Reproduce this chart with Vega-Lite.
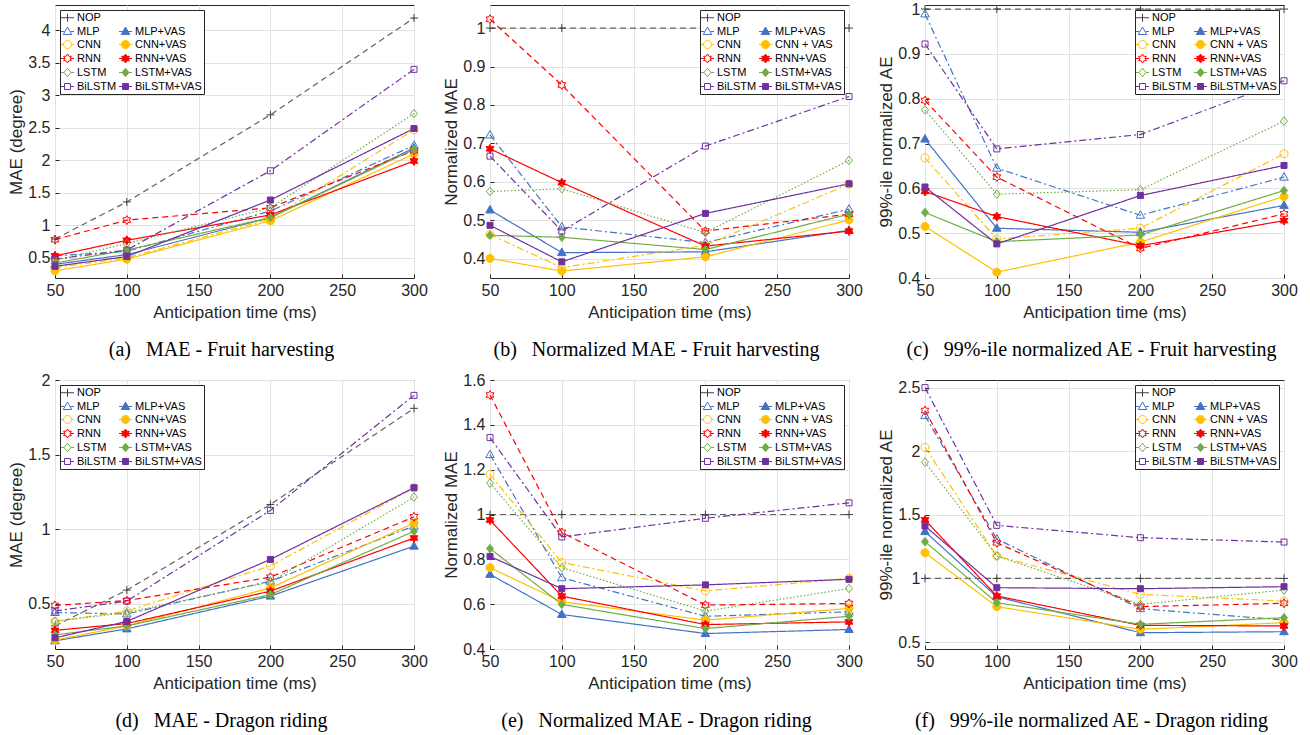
{
"$schema": "https://vega.github.io/schema/vega-lite/v6.json",
"background": "white",
"padding": {"left": 7, "top": 0, "right": 5, "bottom": 5},
"datasets": {"d": [
{"p":"a","s":"NOP","t":50,"v":0.79},{"p":"a","s":"NOP","t":100,"v":1.36},{"p":"a","s":"NOP","t":200,"v":2.70},{"p":"a","s":"NOP","t":300,"v":4.19},
{"p":"a","s":"MLP","t":50,"v":0.53},{"p":"a","s":"MLP","t":100,"v":0.60},{"p":"a","s":"MLP","t":200,"v":1.22},{"p":"a","s":"MLP","t":300,"v":2.23},
{"p":"a","s":"MLP+VAS","t":50,"v":0.40},{"p":"a","s":"MLP+VAS","t":100,"v":0.55},{"p":"a","s":"MLP+VAS","t":200,"v":1.12},{"p":"a","s":"MLP+VAS","t":300,"v":2.19},
{"p":"a","s":"CNN","t":50,"v":0.35},{"p":"a","s":"CNN","t":100,"v":0.50},{"p":"a","s":"CNN","t":200,"v":1.10},{"p":"a","s":"CNN","t":300,"v":2.47},
{"p":"a","s":"CNN+VAS","t":50,"v":0.30},{"p":"a","s":"CNN+VAS","t":100,"v":0.48},{"p":"a","s":"CNN+VAS","t":200,"v":1.07},{"p":"a","s":"CNN+VAS","t":300,"v":2.10},
{"p":"a","s":"RNN","t":50,"v":0.78},{"p":"a","s":"RNN","t":100,"v":1.08},{"p":"a","s":"RNN","t":200,"v":1.27},{"p":"a","s":"RNN","t":300,"v":2.15},
{"p":"a","s":"RNN+VAS","t":50,"v":0.53},{"p":"a","s":"RNN+VAS","t":100,"v":0.77},{"p":"a","s":"RNN+VAS","t":200,"v":1.16},{"p":"a","s":"RNN+VAS","t":300,"v":1.99},
{"p":"a","s":"LSTM","t":50,"v":0.46},{"p":"a","s":"LSTM","t":100,"v":0.72},{"p":"a","s":"LSTM","t":200,"v":1.27},{"p":"a","s":"LSTM","t":300,"v":2.72},
{"p":"a","s":"LSTM+VAS","t":50,"v":0.42},{"p":"a","s":"LSTM+VAS","t":100,"v":0.62},{"p":"a","s":"LSTM+VAS","t":200,"v":1.12},{"p":"a","s":"LSTM+VAS","t":300,"v":2.17},
{"p":"a","s":"BiLSTM","t":50,"v":0.48},{"p":"a","s":"BiLSTM","t":100,"v":0.62},{"p":"a","s":"BiLSTM","t":200,"v":1.84},{"p":"a","s":"BiLSTM","t":300,"v":3.40},
{"p":"a","s":"BiLSTM+VAS","t":50,"v":0.37},{"p":"a","s":"BiLSTM+VAS","t":100,"v":0.52},{"p":"a","s":"BiLSTM+VAS","t":200,"v":1.39},{"p":"a","s":"BiLSTM+VAS","t":300,"v":2.49},

{"p":"b","s":"NOP","t":50,"v":1},{"p":"b","s":"NOP","t":100,"v":1},{"p":"b","s":"NOP","t":200,"v":1},{"p":"b","s":"NOP","t":300,"v":1},
{"p":"b","s":"MLP","t":50,"v":0.722},{"p":"b","s":"MLP","t":100,"v":0.483},{"p":"b","s":"MLP","t":200,"v":0.442},{"p":"b","s":"MLP","t":300,"v":0.529},
{"p":"b","s":"MLP+VAS","t":50,"v":0.527},{"p":"b","s":"MLP+VAS","t":100,"v":0.416},{"p":"b","s":"MLP+VAS","t":200,"v":0.418},{"p":"b","s":"MLP+VAS","t":300,"v":0.474},
{"p":"b","s":"CNN","t":50,"v":0.463},{"p":"b","s":"CNN","t":100,"v":0.377},{"p":"b","s":"CNN","t":200,"v":0.435},{"p":"b","s":"CNN","t":300,"v":0.594},
{"p":"b","s":"CNN+VAS","t":50,"v":0.401},{"p":"b","s":"CNN+VAS","t":100,"v":0.368},{"p":"b","s":"CNN+VAS","t":200,"v":0.405},{"p":"b","s":"CNN+VAS","t":300,"v":0.501},
{"p":"b","s":"RNN","t":50,"v":1.023},{"p":"b","s":"RNN","t":100,"v":0.852},{"p":"b","s":"RNN","t":200,"v":0.472},{"p":"b","s":"RNN","t":300,"v":0.516},
{"p":"b","s":"RNN+VAS","t":50,"v":0.686},{"p":"b","s":"RNN+VAS","t":100,"v":0.598},{"p":"b","s":"RNN+VAS","t":200,"v":0.433},{"p":"b","s":"RNN+VAS","t":300,"v":0.472},
{"p":"b","s":"LSTM","t":50,"v":0.575},{"p":"b","s":"LSTM","t":100,"v":0.582},{"p":"b","s":"LSTM","t":200,"v":0.468},{"p":"b","s":"LSTM","t":300,"v":0.656},
{"p":"b","s":"LSTM+VAS","t":50,"v":0.461},{"p":"b","s":"LSTM+VAS","t":100,"v":0.456},{"p":"b","s":"LSTM+VAS","t":200,"v":0.424},{"p":"b","s":"LSTM+VAS","t":300,"v":0.516},
{"p":"b","s":"BiLSTM","t":50,"v":0.667},{"p":"b","s":"BiLSTM","t":100,"v":0.472},{"p":"b","s":"BiLSTM","t":200,"v":0.693},{"p":"b","s":"BiLSTM","t":300,"v":0.822},
{"p":"b","s":"BiLSTM+VAS","t":50,"v":0.487},{"p":"b","s":"BiLSTM+VAS","t":100,"v":0.392},{"p":"b","s":"BiLSTM+VAS","t":200,"v":0.518},{"p":"b","s":"BiLSTM+VAS","t":300,"v":0.595},

{"p":"c","s":"NOP","t":50,"v":1},{"p":"c","s":"NOP","t":100,"v":1},{"p":"c","s":"NOP","t":200,"v":1},{"p":"c","s":"NOP","t":300,"v":1},
{"p":"c","s":"MLP","t":50,"v":0.989},{"p":"c","s":"MLP","t":100,"v":0.645},{"p":"c","s":"MLP","t":200,"v":0.540},{"p":"c","s":"MLP","t":300,"v":0.625},
{"p":"c","s":"MLP+VAS","t":50,"v":0.710},{"p":"c","s":"MLP+VAS","t":100,"v":0.511},{"p":"c","s":"MLP+VAS","t":200,"v":0.502},{"p":"c","s":"MLP+VAS","t":300,"v":0.562},
{"p":"c","s":"CNN","t":50,"v":0.668},{"p":"c","s":"CNN","t":100,"v":0.487},{"p":"c","s":"CNN","t":200,"v":0.511},{"p":"c","s":"CNN","t":300,"v":0.677},
{"p":"c","s":"CNN+VAS","t":50,"v":0.515},{"p":"c","s":"CNN+VAS","t":100,"v":0.413},{"p":"c","s":"CNN+VAS","t":200,"v":0.480},{"p":"c","s":"CNN+VAS","t":300,"v":0.582},
{"p":"c","s":"RNN","t":50,"v":0.796},{"p":"c","s":"RNN","t":100,"v":0.625},{"p":"c","s":"RNN","t":200,"v":0.466},{"p":"c","s":"RNN","t":300,"v":0.543},
{"p":"c","s":"RNN+VAS","t":50,"v":0.593},{"p":"c","s":"RNN+VAS","t":100,"v":0.537},{"p":"c","s":"RNN+VAS","t":200,"v":0.472},{"p":"c","s":"RNN+VAS","t":300,"v":0.528},
{"p":"c","s":"LSTM","t":50,"v":0.775},{"p":"c","s":"LSTM","t":100,"v":0.587},{"p":"c","s":"LSTM","t":200,"v":0.597},{"p":"c","s":"LSTM","t":300,"v":0.750},
{"p":"c","s":"LSTM+VAS","t":50,"v":0.546},{"p":"c","s":"LSTM+VAS","t":100,"v":0.481},{"p":"c","s":"LSTM+VAS","t":200,"v":0.496},{"p":"c","s":"LSTM+VAS","t":300,"v":0.595},
{"p":"c","s":"BiLSTM","t":50,"v":0.922},{"p":"c","s":"BiLSTM","t":100,"v":0.688},{"p":"c","s":"BiLSTM","t":200,"v":0.720},{"p":"c","s":"BiLSTM","t":300,"v":0.840},
{"p":"c","s":"BiLSTM+VAS","t":50,"v":0.603},{"p":"c","s":"BiLSTM+VAS","t":100,"v":0.476},{"p":"c","s":"BiLSTM+VAS","t":200,"v":0.584},{"p":"c","s":"BiLSTM+VAS","t":300,"v":0.651},

{"p":"d","s":"NOP","t":50,"v":0.35},{"p":"d","s":"NOP","t":100,"v":0.59},{"p":"d","s":"NOP","t":200,"v":1.165},{"p":"d","s":"NOP","t":300,"v":1.81},
{"p":"d","s":"MLP","t":50,"v":0.44},{"p":"d","s":"MLP","t":100,"v":0.43},{"p":"d","s":"MLP","t":200,"v":0.65},{"p":"d","s":"MLP","t":300,"v":1.02},
{"p":"d","s":"MLP+VAS","t":50,"v":0.25},{"p":"d","s":"MLP+VAS","t":100,"v":0.33},{"p":"d","s":"MLP+VAS","t":200,"v":0.55},{"p":"d","s":"MLP+VAS","t":300,"v":0.885},
{"p":"d","s":"CNN","t":50,"v":0.38},{"p":"d","s":"CNN","t":100,"v":0.45},{"p":"d","s":"CNN","t":200,"v":0.752},{"p":"d","s":"CNN","t":300,"v":1.277},
{"p":"d","s":"CNN+VAS","t":50,"v":0.255},{"p":"d","s":"CNN+VAS","t":100,"v":0.35},{"p":"d","s":"CNN+VAS","t":200,"v":0.605},{"p":"d","s":"CNN+VAS","t":300,"v":1.04},
{"p":"d","s":"RNN","t":50,"v":0.487},{"p":"d","s":"RNN","t":100,"v":0.52},{"p":"d","s":"RNN","t":200,"v":0.677},{"p":"d","s":"RNN","t":300,"v":1.082},
{"p":"d","s":"RNN+VAS","t":50,"v":0.32},{"p":"d","s":"RNN+VAS","t":100,"v":0.366},{"p":"d","s":"RNN+VAS","t":200,"v":0.583},{"p":"d","s":"RNN+VAS","t":300,"v":0.94},
{"p":"d","s":"LSTM","t":50,"v":0.38},{"p":"d","s":"LSTM","t":100,"v":0.44},{"p":"d","s":"LSTM","t":200,"v":0.645},{"p":"d","s":"LSTM","t":300,"v":1.214},
{"p":"d","s":"LSTM+VAS","t":50,"v":0.29},{"p":"d","s":"LSTM+VAS","t":100,"v":0.35},{"p":"d","s":"LSTM+VAS","t":200,"v":0.56},{"p":"d","s":"LSTM+VAS","t":300,"v":0.985},
{"p":"d","s":"BiLSTM","t":50,"v":0.45},{"p":"d","s":"BiLSTM","t":100,"v":0.516},{"p":"d","s":"BiLSTM","t":200,"v":1.125},{"p":"d","s":"BiLSTM","t":300,"v":1.897},
{"p":"d","s":"BiLSTM+VAS","t":50,"v":0.27},{"p":"d","s":"BiLSTM+VAS","t":100,"v":0.38},{"p":"d","s":"BiLSTM+VAS","t":200,"v":0.796},{"p":"d","s":"BiLSTM+VAS","t":300,"v":1.277},

{"p":"e","s":"NOP","t":50,"v":1},{"p":"e","s":"NOP","t":100,"v":1},{"p":"e","s":"NOP","t":200,"v":1},{"p":"e","s":"NOP","t":300,"v":1},
{"p":"e","s":"MLP","t":50,"v":1.267},{"p":"e","s":"MLP","t":100,"v":0.718},{"p":"e","s":"MLP","t":200,"v":0.546},{"p":"e","s":"MLP","t":300,"v":0.566},
{"p":"e","s":"MLP+VAS","t":50,"v":0.733},{"p":"e","s":"MLP+VAS","t":100,"v":0.554},{"p":"e","s":"MLP+VAS","t":200,"v":0.469},{"p":"e","s":"MLP+VAS","t":300,"v":0.487},
{"p":"e","s":"CNN","t":50,"v":1.179},{"p":"e","s":"CNN","t":100,"v":0.786},{"p":"e","s":"CNN","t":200,"v":0.659},{"p":"e","s":"CNN","t":300,"v":0.715},
{"p":"e","s":"CNN+VAS","t":50,"v":0.763},{"p":"e","s":"CNN+VAS","t":100,"v":0.611},{"p":"e","s":"CNN+VAS","t":200,"v":0.529},{"p":"e","s":"CNN+VAS","t":300,"v":0.581},
{"p":"e","s":"RNN","t":50,"v":1.533},{"p":"e","s":"RNN","t":100,"v":0.92},{"p":"e","s":"RNN","t":200,"v":0.596},{"p":"e","s":"RNN","t":300,"v":0.603},
{"p":"e","s":"RNN+VAS","t":50,"v":0.975},{"p":"e","s":"RNN+VAS","t":100,"v":0.636},{"p":"e","s":"RNN+VAS","t":200,"v":0.509},{"p":"e","s":"RNN+VAS","t":300,"v":0.521},
{"p":"e","s":"LSTM","t":50,"v":1.14},{"p":"e","s":"LSTM","t":100,"v":0.763},{"p":"e","s":"LSTM","t":200,"v":0.569},{"p":"e","s":"LSTM","t":300,"v":0.67},
{"p":"e","s":"LSTM+VAS","t":50,"v":0.848},{"p":"e","s":"LSTM+VAS","t":100,"v":0.599},{"p":"e","s":"LSTM+VAS","t":200,"v":0.491},{"p":"e","s":"LSTM+VAS","t":300,"v":0.546},
{"p":"e","s":"BiLSTM","t":50,"v":1.343},{"p":"e","s":"BiLSTM","t":100,"v":0.90},{"p":"e","s":"BiLSTM","t":200,"v":0.983},{"p":"e","s":"BiLSTM","t":300,"v":1.052},
{"p":"e","s":"BiLSTM+VAS","t":50,"v":0.813},{"p":"e","s":"BiLSTM+VAS","t":100,"v":0.669},{"p":"e","s":"BiLSTM+VAS","t":200,"v":0.686},{"p":"e","s":"BiLSTM+VAS","t":300,"v":0.711},

{"p":"f","s":"NOP","t":50,"v":1},{"p":"f","s":"NOP","t":100,"v":1},{"p":"f","s":"NOP","t":200,"v":1},{"p":"f","s":"NOP","t":300,"v":1},
{"p":"f","s":"MLP","t":50,"v":2.28},{"p":"f","s":"MLP","t":100,"v":1.31},{"p":"f","s":"MLP","t":200,"v":0.762},{"p":"f","s":"MLP","t":300,"v":0.673},
{"p":"f","s":"MLP+VAS","t":50,"v":1.368},{"p":"f","s":"MLP+VAS","t":100,"v":0.856},{"p":"f","s":"MLP+VAS","t":200,"v":0.573},{"p":"f","s":"MLP+VAS","t":300,"v":0.581},
{"p":"f","s":"CNN","t":50,"v":2.03},{"p":"f","s":"CNN","t":100,"v":1.176},{"p":"f","s":"CNN","t":200,"v":0.875},{"p":"f","s":"CNN","t":300,"v":0.822},
{"p":"f","s":"CNN+VAS","t":50,"v":1.202},{"p":"f","s":"CNN+VAS","t":100,"v":0.778},{"p":"f","s":"CNN+VAS","t":200,"v":0.60},{"p":"f","s":"CNN+VAS","t":300,"v":0.652},
{"p":"f","s":"RNN","t":50,"v":2.32},{"p":"f","s":"RNN","t":100,"v":1.28},{"p":"f","s":"RNN","t":200,"v":0.778},{"p":"f","s":"RNN","t":300,"v":0.804},
{"p":"f","s":"RNN+VAS","t":50,"v":1.46},{"p":"f","s":"RNN+VAS","t":100,"v":0.862},{"p":"f","s":"RNN+VAS","t":200,"v":0.631},{"p":"f","s":"RNN+VAS","t":300,"v":0.626},
{"p":"f","s":"LSTM","t":50,"v":1.915},{"p":"f","s":"LSTM","t":100,"v":1.176},{"p":"f","s":"LSTM","t":200,"v":0.796},{"p":"f","s":"LSTM","t":300,"v":0.909},
{"p":"f","s":"LSTM+VAS","t":50,"v":1.289},{"p":"f","s":"LSTM+VAS","t":100,"v":0.809},{"p":"f","s":"LSTM+VAS","t":200,"v":0.639},{"p":"f","s":"LSTM+VAS","t":300,"v":0.691},
{"p":"f","s":"BiLSTM","t":50,"v":2.50},{"p":"f","s":"BiLSTM","t":100,"v":1.417},{"p":"f","s":"BiLSTM","t":200,"v":1.32},{"p":"f","s":"BiLSTM","t":300,"v":1.286},
{"p":"f","s":"BiLSTM+VAS","t":50,"v":1.412},{"p":"f","s":"BiLSTM+VAS","t":100,"v":0.927},{"p":"f","s":"BiLSTM+VAS","t":200,"v":0.919},{"p":"f","s":"BiLSTM+VAS","t":300,"v":0.935}
]},
"data": {"name": "d"},
"config": {
  "view": {"stroke": "#262626", "strokeWidth": 1},
  "axis": {"domain": false, "ticks": true, "tickSize": -4, "tickColor": "#262626", "tickWidth": 1, "grid": true, "gridColor": "#e2e2e2", "gridWidth": 1, "labelFlush": false, "labelFont": "Liberation Sans", "labelFontSize": 16, "labelColor": "#262626", "titleFont": "Liberation Sans", "titleFontSize": 17, "titleFontWeight": "normal", "titleColor": "#262626"},
  "axisX": {"labelPadding": 8, "titlePadding": 6},
  "axisY": {"labelPadding": 9, "titlePadding": 2, "format": "~g"},
  "legend": {"columns": 2, "columnPadding": 0, "rowPadding": 1, "padding": 2, "offset": 5, "strokeColor": "#262626", "fillColor": "white", "labelFont": "Liberation Sans", "labelFontSize": 11, "labelColor": "black", "symbolSize": 100, "symbolStrokeWidth": 1, "labelOffset": 4, "labelLimit": 300, "symbolOpacity": 1, "titlePadding": 0},
  "title": {"font": "Liberation Serif", "fontSize": 20, "fontWeight": "normal", "color": "black", "orient": "bottom", "anchor": "middle", "offset": 20, "dx": -13}
},
"columns": 3,
"spacing": {"row": 102, "column": 76},
"bounds": "flush",
"concat": [
{
 "width": 359, "height": 273,
 "transform": [{"filter": "datum.p == 'a'"}],
 "title": {"text": "(a)\u00a0\u00a0 MAE - Fruit harvesting"},
 "encoding": {
  "x": {"field": "t", "type": "quantitative", "scale": {"domain": [50, 300], "nice": false, "zero": false}, "axis": {"values": [50, 100, 150, 200, 250, 300], "title": "Anticipation time (ms)"}},
  "y": {"field": "v", "type": "quantitative", "scale": {"domain": [0.19, 4.39], "nice": false, "zero": false}, "axis": {"values": [0.5, 1, 1.5, 2, 2.5, 3, 3.5, 4], "title": "MAE (degree)"}}
 },
 "layer": [
  {"mark": {"type": "line", "strokeWidth": 1.2},
   "encoding": {
    "color": {"field": "s", "type": "nominal", "legend": null, "scale": {"domain": ["NOP","MLP","CNN","RNN","LSTM","BiLSTM"," ","MLP+VAS","CNN+VAS","RNN+VAS","LSTM+VAS","BiLSTM+VAS"], "range": ["#626262","#4472C4","#FFC000","#FF0000","#70AD47","#7030A0","transparent","#4472C4","#FFC000","#FF0000","#70AD47","#7030A0"]}},
    "strokeDash": {"field": "s", "type": "nominal", "legend": null, "scale": {"domain": ["NOP","MLP","CNN","RNN","LSTM","BiLSTM"," ","MLP+VAS","CNN+VAS","RNN+VAS","LSTM+VAS","BiLSTM+VAS"], "range": [[6,4],[7,3,2,3],[7,3,2,3],[6,4],[1.5,2],[7,3,2,3],[1,0],[1,0],[1,0],[1,0],[1,0],[1,0]]}}
   }},
  {"mark": {"type": "point", "filled": false, "size": 100, "strokeWidth": 1, "opacity": 1},
   "encoding": {
    "color": {"field": "s", "type": "nominal", "legend": null, "scale": {"domain": ["NOP","MLP","CNN","RNN","LSTM","BiLSTM"," ","MLP+VAS","CNN+VAS","RNN+VAS","LSTM+VAS","BiLSTM+VAS"], "range": ["#404040","#4472C4","#FFC000","#FF0000","#70AD47","#7030A0","transparent","#4472C4","#FFC000","#FF0000","#70AD47","#7030A0"]}},
    "fill": {"field": "s", "type": "nominal", "legend": null, "scale": {"domain": ["NOP","MLP","CNN","RNN","LSTM","BiLSTM"," ","MLP+VAS","CNN+VAS","RNN+VAS","LSTM+VAS","BiLSTM+VAS"], "range": ["transparent","transparent","transparent","transparent","transparent","transparent","transparent","#4472C4","#FFC000","#FF0000","#70AD47","#7030A0"]}},
    "shape": {"field": "s", "type": "nominal", "legend": null, "scale": {"domain": ["NOP","MLP","CNN","RNN","LSTM","BiLSTM"," ","MLP+VAS","CNN+VAS","RNN+VAS","LSTM+VAS","BiLSTM+VAS"], "range": ["M-0.8,0H0.8M0,-0.8V0.8","M0,-0.9L0.85,0.6L-0.85,0.6Z","M0.8,0A0.8,0.8,0,1,1,-0.8,0A0.8,0.8,0,1,1,0.8,0Z","M0,-0.9L0.26,-0.45L0.779,-0.45L0.52,0L0.779,0.45L0.26,0.45L0,0.9L-0.26,0.45L-0.779,0.45L-0.52,0L-0.779,-0.45L-0.26,-0.45Z","M0,-0.85L0.7,0L0,0.85L-0.7,0Z","M-0.6,-0.6H0.6V0.6H-0.6Z","M-0.6,-0.6H0.6V0.6H-0.6Z","M0,-0.9L0.85,0.6L-0.85,0.6Z","M0.8,0A0.8,0.8,0,1,1,-0.8,0A0.8,0.8,0,1,1,0.8,0Z","M0,-0.9L0.26,-0.45L0.779,-0.45L0.52,0L0.779,0.45L0.26,0.45L0,0.9L-0.26,0.45L-0.779,0.45L-0.52,0L-0.779,-0.45L-0.26,-0.45Z","M0,-0.85L0.7,0L0,0.85L-0.7,0Z","M-0.6,-0.6H0.6V0.6H-0.6Z"]}}
   }},
  {"transform": [{"filter": "datum.t < 0"}],
   "mark": {"type": "point", "filled": false, "size": 100, "strokeWidth": 1, "opacity": 1},
   "encoding": {
    "color": {"field": "s", "type": "nominal", "legend": {"title": null, "orient": "top-left"}, "scale": {"domain": ["NOP","MLP","CNN","RNN","LSTM","BiLSTM"," ","MLP+VAS","CNN+VAS","RNN+VAS","LSTM+VAS","BiLSTM+VAS"], "range": ["#404040","#4472C4","#FFC000","#FF0000","#70AD47","#7030A0","transparent","#4472C4","#FFC000","#FF0000","#70AD47","#7030A0"]}},
    "fill": {"field": "s", "type": "nominal", "legend": {"title": null, "orient": "top-left"}, "scale": {"domain": ["NOP","MLP","CNN","RNN","LSTM","BiLSTM"," ","MLP+VAS","CNN+VAS","RNN+VAS","LSTM+VAS","BiLSTM+VAS"], "range": ["transparent","transparent","transparent","transparent","transparent","transparent","transparent","#4472C4","#FFC000","#FF0000","#70AD47","#7030A0"]}},
    "shape": {"field": "s", "type": "nominal", "legend": {"title": null, "orient": "top-left"}, "scale": {"domain": ["NOP","MLP","CNN","RNN","LSTM","BiLSTM"," ","MLP+VAS","CNN+VAS","RNN+VAS","LSTM+VAS","BiLSTM+VAS"], "range": ["M-1.3,0H1.3M0,-0.8V0.8","M-1.3,0H-0.6M0.6,0H1.3M0,-0.9L0.85,0.6L-0.85,0.6Z","M-1.3,0H-0.8M0.8,0H1.3M0.8,0A0.8,0.8,0,1,1,-0.8,0A0.8,0.8,0,1,1,0.8,0Z","M-1.3,0H-0.52M0.52,0H1.3M0,-0.9L0.26,-0.45L0.779,-0.45L0.52,0L0.779,0.45L0.26,0.45L0,0.9L-0.26,0.45L-0.779,0.45L-0.52,0L-0.779,-0.45L-0.26,-0.45Z","M-1.3,0H-0.7M0.7,0H1.3M0,-0.85L0.7,0L0,0.85L-0.7,0Z","M-1.3,0H-0.6M0.6,0H1.3M-0.6,-0.6H0.6V0.6H-0.6Z","M-1,0H1","M-1.3,0H1.3M0,-0.9L0.85,0.6L-0.85,0.6Z","M-1.3,0H1.3M0.8,0A0.8,0.8,0,1,1,-0.8,0A0.8,0.8,0,1,1,0.8,0Z","M-1.3,0H1.3M0,-0.9L0.26,-0.45L0.779,-0.45L0.52,0L0.779,0.45L0.26,0.45L0,0.9L-0.26,0.45L-0.779,0.45L-0.52,0L-0.779,-0.45L-0.26,-0.45Z","M-1.3,0H1.3M0,-0.85L0.7,0L0,0.85L-0.7,0Z","M-1.3,0H1.3M-0.6,-0.6H0.6V0.6H-0.6Z"]}}
   }}
 ],
 "resolve": {"scale": {"color": "independent", "fill": "independent", "shape": "independent", "strokeDash": "independent"}}
},
{
 "width": 359, "height": 273,
 "transform": [{"filter": "datum.p == 'b'"}],
 "title": {"text": "(b)\u00a0\u00a0 Normalized MAE - Fruit harvesting"},
 "encoding": {
  "x": {"field": "t", "type": "quantitative", "scale": {"domain": [50, 300], "nice": false, "zero": false}, "axis": {"values": [50, 100, 150, 200, 250, 300], "title": "Anticipation time (ms)"}},
  "y": {"field": "v", "type": "quantitative", "scale": {"domain": [0.35, 1.06], "nice": false, "zero": false}, "axis": {"values": [0.4, 0.5, 0.6, 0.7, 0.8, 0.9, 1], "title": "Normalized MAE"}}
 },
 "layer": [
  {"mark": {"type": "line", "strokeWidth": 1.2},
   "encoding": {
    "color": {"field": "s", "type": "nominal", "legend": null, "scale": {"domain": ["NOP","MLP","CNN","RNN","LSTM","BiLSTM"," ","MLP+VAS","CNN+VAS","RNN+VAS","LSTM+VAS","BiLSTM+VAS"], "range": ["#626262","#4472C4","#FFC000","#FF0000","#70AD47","#7030A0","transparent","#4472C4","#FFC000","#FF0000","#70AD47","#7030A0"]}},
    "strokeDash": {"field": "s", "type": "nominal", "legend": null, "scale": {"domain": ["NOP","MLP","CNN","RNN","LSTM","BiLSTM"," ","MLP+VAS","CNN+VAS","RNN+VAS","LSTM+VAS","BiLSTM+VAS"], "range": [[6,4],[7,3,2,3],[7,3,2,3],[6,4],[1.5,2],[7,3,2,3],[1,0],[1,0],[1,0],[1,0],[1,0],[1,0]]}}
   }},
  {"mark": {"type": "point", "filled": false, "size": 100, "strokeWidth": 1, "opacity": 1},
   "encoding": {
    "color": {"field": "s", "type": "nominal", "legend": null, "scale": {"domain": ["NOP","MLP","CNN","RNN","LSTM","BiLSTM"," ","MLP+VAS","CNN+VAS","RNN+VAS","LSTM+VAS","BiLSTM+VAS"], "range": ["#404040","#4472C4","#FFC000","#FF0000","#70AD47","#7030A0","transparent","#4472C4","#FFC000","#FF0000","#70AD47","#7030A0"]}},
    "fill": {"field": "s", "type": "nominal", "legend": null, "scale": {"domain": ["NOP","MLP","CNN","RNN","LSTM","BiLSTM"," ","MLP+VAS","CNN+VAS","RNN+VAS","LSTM+VAS","BiLSTM+VAS"], "range": ["transparent","transparent","transparent","transparent","transparent","transparent","transparent","#4472C4","#FFC000","#FF0000","#70AD47","#7030A0"]}},
    "shape": {"field": "s", "type": "nominal", "legend": null, "scale": {"domain": ["NOP","MLP","CNN","RNN","LSTM","BiLSTM"," ","MLP+VAS","CNN+VAS","RNN+VAS","LSTM+VAS","BiLSTM+VAS"], "range": ["M-0.8,0H0.8M0,-0.8V0.8","M0,-0.9L0.85,0.6L-0.85,0.6Z","M0.8,0A0.8,0.8,0,1,1,-0.8,0A0.8,0.8,0,1,1,0.8,0Z","M0,-0.9L0.26,-0.45L0.779,-0.45L0.52,0L0.779,0.45L0.26,0.45L0,0.9L-0.26,0.45L-0.779,0.45L-0.52,0L-0.779,-0.45L-0.26,-0.45Z","M0,-0.85L0.7,0L0,0.85L-0.7,0Z","M-0.6,-0.6H0.6V0.6H-0.6Z","M-0.6,-0.6H0.6V0.6H-0.6Z","M0,-0.9L0.85,0.6L-0.85,0.6Z","M0.8,0A0.8,0.8,0,1,1,-0.8,0A0.8,0.8,0,1,1,0.8,0Z","M0,-0.9L0.26,-0.45L0.779,-0.45L0.52,0L0.779,0.45L0.26,0.45L0,0.9L-0.26,0.45L-0.779,0.45L-0.52,0L-0.779,-0.45L-0.26,-0.45Z","M0,-0.85L0.7,0L0,0.85L-0.7,0Z","M-0.6,-0.6H0.6V0.6H-0.6Z"]}}
   }},
  {"transform": [{"filter": "datum.t < 0"}],
   "mark": {"type": "point", "filled": false, "size": 100, "strokeWidth": 1, "opacity": 1},
   "encoding": {
    "color": {"field": "s", "type": "nominal", "legend": {"title": null, "orient": "top-right", "labelExpr": "datum.label == 'CNN+VAS' ? 'CNN + VAS' : datum.label"}, "scale": {"domain": ["NOP","MLP","CNN","RNN","LSTM","BiLSTM"," ","MLP+VAS","CNN+VAS","RNN+VAS","LSTM+VAS","BiLSTM+VAS"], "range": ["#404040","#4472C4","#FFC000","#FF0000","#70AD47","#7030A0","transparent","#4472C4","#FFC000","#FF0000","#70AD47","#7030A0"]}},
    "fill": {"field": "s", "type": "nominal", "legend": {"title": null, "orient": "top-right", "labelExpr": "datum.label == 'CNN+VAS' ? 'CNN + VAS' : datum.label"}, "scale": {"domain": ["NOP","MLP","CNN","RNN","LSTM","BiLSTM"," ","MLP+VAS","CNN+VAS","RNN+VAS","LSTM+VAS","BiLSTM+VAS"], "range": ["transparent","transparent","transparent","transparent","transparent","transparent","transparent","#4472C4","#FFC000","#FF0000","#70AD47","#7030A0"]}},
    "shape": {"field": "s", "type": "nominal", "legend": {"title": null, "orient": "top-right", "labelExpr": "datum.label == 'CNN+VAS' ? 'CNN + VAS' : datum.label"}, "scale": {"domain": ["NOP","MLP","CNN","RNN","LSTM","BiLSTM"," ","MLP+VAS","CNN+VAS","RNN+VAS","LSTM+VAS","BiLSTM+VAS"], "range": ["M-1.3,0H1.3M0,-0.8V0.8","M-1.3,0H-0.6M0.6,0H1.3M0,-0.9L0.85,0.6L-0.85,0.6Z","M-1.3,0H-0.8M0.8,0H1.3M0.8,0A0.8,0.8,0,1,1,-0.8,0A0.8,0.8,0,1,1,0.8,0Z","M-1.3,0H-0.52M0.52,0H1.3M0,-0.9L0.26,-0.45L0.779,-0.45L0.52,0L0.779,0.45L0.26,0.45L0,0.9L-0.26,0.45L-0.779,0.45L-0.52,0L-0.779,-0.45L-0.26,-0.45Z","M-1.3,0H-0.7M0.7,0H1.3M0,-0.85L0.7,0L0,0.85L-0.7,0Z","M-1.3,0H-0.6M0.6,0H1.3M-0.6,-0.6H0.6V0.6H-0.6Z","M-1,0H1","M-1.3,0H1.3M0,-0.9L0.85,0.6L-0.85,0.6Z","M-1.3,0H1.3M0.8,0A0.8,0.8,0,1,1,-0.8,0A0.8,0.8,0,1,1,0.8,0Z","M-1.3,0H1.3M0,-0.9L0.26,-0.45L0.779,-0.45L0.52,0L0.779,0.45L0.26,0.45L0,0.9L-0.26,0.45L-0.779,0.45L-0.52,0L-0.779,-0.45L-0.26,-0.45Z","M-1.3,0H1.3M0,-0.85L0.7,0L0,0.85L-0.7,0Z","M-1.3,0H1.3M-0.6,-0.6H0.6V0.6H-0.6Z"]}}
   }}
 ],
 "resolve": {"scale": {"color": "independent", "fill": "independent", "shape": "independent", "strokeDash": "independent"}}
},
{
 "width": 359, "height": 273,
 "transform": [{"filter": "datum.p == 'c'"}],
 "title": {"text": "(c)\u00a0\u00a0 99%-ile normalized AE - Fruit harvesting"},
 "encoding": {
  "x": {"field": "t", "type": "quantitative", "scale": {"domain": [50, 300], "nice": false, "zero": false}, "axis": {"values": [50, 100, 150, 200, 250, 300], "title": "Anticipation time (ms)"}},
  "y": {"field": "v", "type": "quantitative", "scale": {"domain": [0.4, 1.009], "nice": false, "zero": false}, "axis": {"values": [0.4, 0.5, 0.6, 0.7, 0.8, 0.9, 1], "title": "99%-ile normalized AE"}}
 },
 "layer": [
  {"mark": {"type": "line", "strokeWidth": 1.2},
   "encoding": {
    "color": {"field": "s", "type": "nominal", "legend": null, "scale": {"domain": ["NOP","MLP","CNN","RNN","LSTM","BiLSTM"," ","MLP+VAS","CNN+VAS","RNN+VAS","LSTM+VAS","BiLSTM+VAS"], "range": ["#626262","#4472C4","#FFC000","#FF0000","#70AD47","#7030A0","transparent","#4472C4","#FFC000","#FF0000","#70AD47","#7030A0"]}},
    "strokeDash": {"field": "s", "type": "nominal", "legend": null, "scale": {"domain": ["NOP","MLP","CNN","RNN","LSTM","BiLSTM"," ","MLP+VAS","CNN+VAS","RNN+VAS","LSTM+VAS","BiLSTM+VAS"], "range": [[6,4],[7,3,2,3],[7,3,2,3],[6,4],[1.5,2],[7,3,2,3],[1,0],[1,0],[1,0],[1,0],[1,0],[1,0]]}}
   }},
  {"mark": {"type": "point", "filled": false, "size": 100, "strokeWidth": 1, "opacity": 1},
   "encoding": {
    "color": {"field": "s", "type": "nominal", "legend": null, "scale": {"domain": ["NOP","MLP","CNN","RNN","LSTM","BiLSTM"," ","MLP+VAS","CNN+VAS","RNN+VAS","LSTM+VAS","BiLSTM+VAS"], "range": ["#404040","#4472C4","#FFC000","#FF0000","#70AD47","#7030A0","transparent","#4472C4","#FFC000","#FF0000","#70AD47","#7030A0"]}},
    "fill": {"field": "s", "type": "nominal", "legend": null, "scale": {"domain": ["NOP","MLP","CNN","RNN","LSTM","BiLSTM"," ","MLP+VAS","CNN+VAS","RNN+VAS","LSTM+VAS","BiLSTM+VAS"], "range": ["transparent","transparent","transparent","transparent","transparent","transparent","transparent","#4472C4","#FFC000","#FF0000","#70AD47","#7030A0"]}},
    "shape": {"field": "s", "type": "nominal", "legend": null, "scale": {"domain": ["NOP","MLP","CNN","RNN","LSTM","BiLSTM"," ","MLP+VAS","CNN+VAS","RNN+VAS","LSTM+VAS","BiLSTM+VAS"], "range": ["M-0.8,0H0.8M0,-0.8V0.8","M0,-0.9L0.85,0.6L-0.85,0.6Z","M0.8,0A0.8,0.8,0,1,1,-0.8,0A0.8,0.8,0,1,1,0.8,0Z","M0,-0.9L0.26,-0.45L0.779,-0.45L0.52,0L0.779,0.45L0.26,0.45L0,0.9L-0.26,0.45L-0.779,0.45L-0.52,0L-0.779,-0.45L-0.26,-0.45Z","M0,-0.85L0.7,0L0,0.85L-0.7,0Z","M-0.6,-0.6H0.6V0.6H-0.6Z","M-0.6,-0.6H0.6V0.6H-0.6Z","M0,-0.9L0.85,0.6L-0.85,0.6Z","M0.8,0A0.8,0.8,0,1,1,-0.8,0A0.8,0.8,0,1,1,0.8,0Z","M0,-0.9L0.26,-0.45L0.779,-0.45L0.52,0L0.779,0.45L0.26,0.45L0,0.9L-0.26,0.45L-0.779,0.45L-0.52,0L-0.779,-0.45L-0.26,-0.45Z","M0,-0.85L0.7,0L0,0.85L-0.7,0Z","M-0.6,-0.6H0.6V0.6H-0.6Z"]}}
   }},
  {"transform": [{"filter": "datum.t < 0"}],
   "mark": {"type": "point", "filled": false, "size": 100, "strokeWidth": 1, "opacity": 1},
   "encoding": {
    "color": {"field": "s", "type": "nominal", "legend": {"title": null, "orient": "top-right", "labelExpr": "datum.label == 'CNN+VAS' ? 'CNN + VAS' : datum.label"}, "scale": {"domain": ["NOP","MLP","CNN","RNN","LSTM","BiLSTM"," ","MLP+VAS","CNN+VAS","RNN+VAS","LSTM+VAS","BiLSTM+VAS"], "range": ["#404040","#4472C4","#FFC000","#FF0000","#70AD47","#7030A0","transparent","#4472C4","#FFC000","#FF0000","#70AD47","#7030A0"]}},
    "fill": {"field": "s", "type": "nominal", "legend": {"title": null, "orient": "top-right", "labelExpr": "datum.label == 'CNN+VAS' ? 'CNN + VAS' : datum.label"}, "scale": {"domain": ["NOP","MLP","CNN","RNN","LSTM","BiLSTM"," ","MLP+VAS","CNN+VAS","RNN+VAS","LSTM+VAS","BiLSTM+VAS"], "range": ["transparent","transparent","transparent","transparent","transparent","transparent","transparent","#4472C4","#FFC000","#FF0000","#70AD47","#7030A0"]}},
    "shape": {"field": "s", "type": "nominal", "legend": {"title": null, "orient": "top-right", "labelExpr": "datum.label == 'CNN+VAS' ? 'CNN + VAS' : datum.label"}, "scale": {"domain": ["NOP","MLP","CNN","RNN","LSTM","BiLSTM"," ","MLP+VAS","CNN+VAS","RNN+VAS","LSTM+VAS","BiLSTM+VAS"], "range": ["M-1.3,0H1.3M0,-0.8V0.8","M-1.3,0H-0.6M0.6,0H1.3M0,-0.9L0.85,0.6L-0.85,0.6Z","M-1.3,0H-0.8M0.8,0H1.3M0.8,0A0.8,0.8,0,1,1,-0.8,0A0.8,0.8,0,1,1,0.8,0Z","M-1.3,0H-0.52M0.52,0H1.3M0,-0.9L0.26,-0.45L0.779,-0.45L0.52,0L0.779,0.45L0.26,0.45L0,0.9L-0.26,0.45L-0.779,0.45L-0.52,0L-0.779,-0.45L-0.26,-0.45Z","M-1.3,0H-0.7M0.7,0H1.3M0,-0.85L0.7,0L0,0.85L-0.7,0Z","M-1.3,0H-0.6M0.6,0H1.3M-0.6,-0.6H0.6V0.6H-0.6Z","M-1,0H1","M-1.3,0H1.3M0,-0.9L0.85,0.6L-0.85,0.6Z","M-1.3,0H1.3M0.8,0A0.8,0.8,0,1,1,-0.8,0A0.8,0.8,0,1,1,0.8,0Z","M-1.3,0H1.3M0,-0.9L0.26,-0.45L0.779,-0.45L0.52,0L0.779,0.45L0.26,0.45L0,0.9L-0.26,0.45L-0.779,0.45L-0.52,0L-0.779,-0.45L-0.26,-0.45Z","M-1.3,0H1.3M0,-0.85L0.7,0L0,0.85L-0.7,0Z","M-1.3,0H1.3M-0.6,-0.6H0.6V0.6H-0.6Z"]}}
   }}
 ],
 "resolve": {"scale": {"color": "independent", "fill": "independent", "shape": "independent", "strokeDash": "independent"}}
},
{
 "width": 359, "height": 269,
 "transform": [{"filter": "datum.p == 'd'"}],
 "title": {"text": "(d)\u00a0\u00a0 MAE - Dragon riding"},
 "encoding": {
  "x": {"field": "t", "type": "quantitative", "scale": {"domain": [50, 300], "nice": false, "zero": false}, "axis": {"values": [50, 100, 150, 200, 250, 300], "title": "Anticipation time (ms)"}},
  "y": {"field": "v", "type": "quantitative", "scale": {"domain": [0.195, 2.0], "nice": false, "zero": false}, "axis": {"values": [0.5, 1, 1.5, 2], "title": "MAE (degree)"}}
 },
 "layer": [
  {"mark": {"type": "line", "strokeWidth": 1.2},
   "encoding": {
    "color": {"field": "s", "type": "nominal", "legend": null, "scale": {"domain": ["NOP","MLP","CNN","RNN","LSTM","BiLSTM"," ","MLP+VAS","CNN+VAS","RNN+VAS","LSTM+VAS","BiLSTM+VAS"], "range": ["#626262","#4472C4","#FFC000","#FF0000","#70AD47","#7030A0","transparent","#4472C4","#FFC000","#FF0000","#70AD47","#7030A0"]}},
    "strokeDash": {"field": "s", "type": "nominal", "legend": null, "scale": {"domain": ["NOP","MLP","CNN","RNN","LSTM","BiLSTM"," ","MLP+VAS","CNN+VAS","RNN+VAS","LSTM+VAS","BiLSTM+VAS"], "range": [[6,4],[7,3,2,3],[7,3,2,3],[6,4],[1.5,2],[7,3,2,3],[1,0],[1,0],[1,0],[1,0],[1,0],[1,0]]}}
   }},
  {"mark": {"type": "point", "filled": false, "size": 100, "strokeWidth": 1, "opacity": 1},
   "encoding": {
    "color": {"field": "s", "type": "nominal", "legend": null, "scale": {"domain": ["NOP","MLP","CNN","RNN","LSTM","BiLSTM"," ","MLP+VAS","CNN+VAS","RNN+VAS","LSTM+VAS","BiLSTM+VAS"], "range": ["#404040","#4472C4","#FFC000","#FF0000","#70AD47","#7030A0","transparent","#4472C4","#FFC000","#FF0000","#70AD47","#7030A0"]}},
    "fill": {"field": "s", "type": "nominal", "legend": null, "scale": {"domain": ["NOP","MLP","CNN","RNN","LSTM","BiLSTM"," ","MLP+VAS","CNN+VAS","RNN+VAS","LSTM+VAS","BiLSTM+VAS"], "range": ["transparent","transparent","transparent","transparent","transparent","transparent","transparent","#4472C4","#FFC000","#FF0000","#70AD47","#7030A0"]}},
    "shape": {"field": "s", "type": "nominal", "legend": null, "scale": {"domain": ["NOP","MLP","CNN","RNN","LSTM","BiLSTM"," ","MLP+VAS","CNN+VAS","RNN+VAS","LSTM+VAS","BiLSTM+VAS"], "range": ["M-0.8,0H0.8M0,-0.8V0.8","M0,-0.9L0.85,0.6L-0.85,0.6Z","M0.8,0A0.8,0.8,0,1,1,-0.8,0A0.8,0.8,0,1,1,0.8,0Z","M0,-0.9L0.26,-0.45L0.779,-0.45L0.52,0L0.779,0.45L0.26,0.45L0,0.9L-0.26,0.45L-0.779,0.45L-0.52,0L-0.779,-0.45L-0.26,-0.45Z","M0,-0.85L0.7,0L0,0.85L-0.7,0Z","M-0.6,-0.6H0.6V0.6H-0.6Z","M-0.6,-0.6H0.6V0.6H-0.6Z","M0,-0.9L0.85,0.6L-0.85,0.6Z","M0.8,0A0.8,0.8,0,1,1,-0.8,0A0.8,0.8,0,1,1,0.8,0Z","M0,-0.9L0.26,-0.45L0.779,-0.45L0.52,0L0.779,0.45L0.26,0.45L0,0.9L-0.26,0.45L-0.779,0.45L-0.52,0L-0.779,-0.45L-0.26,-0.45Z","M0,-0.85L0.7,0L0,0.85L-0.7,0Z","M-0.6,-0.6H0.6V0.6H-0.6Z"]}}
   }},
  {"transform": [{"filter": "datum.t < 0"}],
   "mark": {"type": "point", "filled": false, "size": 100, "strokeWidth": 1, "opacity": 1},
   "encoding": {
    "color": {"field": "s", "type": "nominal", "legend": {"title": null, "orient": "top-left"}, "scale": {"domain": ["NOP","MLP","CNN","RNN","LSTM","BiLSTM"," ","MLP+VAS","CNN+VAS","RNN+VAS","LSTM+VAS","BiLSTM+VAS"], "range": ["#404040","#4472C4","#FFC000","#FF0000","#70AD47","#7030A0","transparent","#4472C4","#FFC000","#FF0000","#70AD47","#7030A0"]}},
    "fill": {"field": "s", "type": "nominal", "legend": {"title": null, "orient": "top-left"}, "scale": {"domain": ["NOP","MLP","CNN","RNN","LSTM","BiLSTM"," ","MLP+VAS","CNN+VAS","RNN+VAS","LSTM+VAS","BiLSTM+VAS"], "range": ["transparent","transparent","transparent","transparent","transparent","transparent","transparent","#4472C4","#FFC000","#FF0000","#70AD47","#7030A0"]}},
    "shape": {"field": "s", "type": "nominal", "legend": {"title": null, "orient": "top-left"}, "scale": {"domain": ["NOP","MLP","CNN","RNN","LSTM","BiLSTM"," ","MLP+VAS","CNN+VAS","RNN+VAS","LSTM+VAS","BiLSTM+VAS"], "range": ["M-1.3,0H1.3M0,-0.8V0.8","M-1.3,0H-0.6M0.6,0H1.3M0,-0.9L0.85,0.6L-0.85,0.6Z","M-1.3,0H-0.8M0.8,0H1.3M0.8,0A0.8,0.8,0,1,1,-0.8,0A0.8,0.8,0,1,1,0.8,0Z","M-1.3,0H-0.52M0.52,0H1.3M0,-0.9L0.26,-0.45L0.779,-0.45L0.52,0L0.779,0.45L0.26,0.45L0,0.9L-0.26,0.45L-0.779,0.45L-0.52,0L-0.779,-0.45L-0.26,-0.45Z","M-1.3,0H-0.7M0.7,0H1.3M0,-0.85L0.7,0L0,0.85L-0.7,0Z","M-1.3,0H-0.6M0.6,0H1.3M-0.6,-0.6H0.6V0.6H-0.6Z","M-1,0H1","M-1.3,0H1.3M0,-0.9L0.85,0.6L-0.85,0.6Z","M-1.3,0H1.3M0.8,0A0.8,0.8,0,1,1,-0.8,0A0.8,0.8,0,1,1,0.8,0Z","M-1.3,0H1.3M0,-0.9L0.26,-0.45L0.779,-0.45L0.52,0L0.779,0.45L0.26,0.45L0,0.9L-0.26,0.45L-0.779,0.45L-0.52,0L-0.779,-0.45L-0.26,-0.45Z","M-1.3,0H1.3M0,-0.85L0.7,0L0,0.85L-0.7,0Z","M-1.3,0H1.3M-0.6,-0.6H0.6V0.6H-0.6Z"]}}
   }}
 ],
 "resolve": {"scale": {"color": "independent", "fill": "independent", "shape": "independent", "strokeDash": "independent"}}
},
{
 "width": 359, "height": 269,
 "transform": [{"filter": "datum.p == 'e'"}],
 "title": {"text": "(e)\u00a0\u00a0 Normalized MAE - Dragon riding"},
 "encoding": {
  "x": {"field": "t", "type": "quantitative", "scale": {"domain": [50, 300], "nice": false, "zero": false}, "axis": {"values": [50, 100, 150, 200, 250, 300], "title": "Anticipation time (ms)"}},
  "y": {"field": "v", "type": "quantitative", "scale": {"domain": [0.4, 1.6], "nice": false, "zero": false}, "axis": {"values": [0.4, 0.6, 0.8, 1, 1.2, 1.4, 1.6], "title": "Normalized MAE"}}
 },
 "layer": [
  {"mark": {"type": "line", "strokeWidth": 1.2},
   "encoding": {
    "color": {"field": "s", "type": "nominal", "legend": null, "scale": {"domain": ["NOP","MLP","CNN","RNN","LSTM","BiLSTM"," ","MLP+VAS","CNN+VAS","RNN+VAS","LSTM+VAS","BiLSTM+VAS"], "range": ["#626262","#4472C4","#FFC000","#FF0000","#70AD47","#7030A0","transparent","#4472C4","#FFC000","#FF0000","#70AD47","#7030A0"]}},
    "strokeDash": {"field": "s", "type": "nominal", "legend": null, "scale": {"domain": ["NOP","MLP","CNN","RNN","LSTM","BiLSTM"," ","MLP+VAS","CNN+VAS","RNN+VAS","LSTM+VAS","BiLSTM+VAS"], "range": [[6,4],[7,3,2,3],[7,3,2,3],[6,4],[1.5,2],[7,3,2,3],[1,0],[1,0],[1,0],[1,0],[1,0],[1,0]]}}
   }},
  {"mark": {"type": "point", "filled": false, "size": 100, "strokeWidth": 1, "opacity": 1},
   "encoding": {
    "color": {"field": "s", "type": "nominal", "legend": null, "scale": {"domain": ["NOP","MLP","CNN","RNN","LSTM","BiLSTM"," ","MLP+VAS","CNN+VAS","RNN+VAS","LSTM+VAS","BiLSTM+VAS"], "range": ["#404040","#4472C4","#FFC000","#FF0000","#70AD47","#7030A0","transparent","#4472C4","#FFC000","#FF0000","#70AD47","#7030A0"]}},
    "fill": {"field": "s", "type": "nominal", "legend": null, "scale": {"domain": ["NOP","MLP","CNN","RNN","LSTM","BiLSTM"," ","MLP+VAS","CNN+VAS","RNN+VAS","LSTM+VAS","BiLSTM+VAS"], "range": ["transparent","transparent","transparent","transparent","transparent","transparent","transparent","#4472C4","#FFC000","#FF0000","#70AD47","#7030A0"]}},
    "shape": {"field": "s", "type": "nominal", "legend": null, "scale": {"domain": ["NOP","MLP","CNN","RNN","LSTM","BiLSTM"," ","MLP+VAS","CNN+VAS","RNN+VAS","LSTM+VAS","BiLSTM+VAS"], "range": ["M-0.8,0H0.8M0,-0.8V0.8","M0,-0.9L0.85,0.6L-0.85,0.6Z","M0.8,0A0.8,0.8,0,1,1,-0.8,0A0.8,0.8,0,1,1,0.8,0Z","M0,-0.9L0.26,-0.45L0.779,-0.45L0.52,0L0.779,0.45L0.26,0.45L0,0.9L-0.26,0.45L-0.779,0.45L-0.52,0L-0.779,-0.45L-0.26,-0.45Z","M0,-0.85L0.7,0L0,0.85L-0.7,0Z","M-0.6,-0.6H0.6V0.6H-0.6Z","M-0.6,-0.6H0.6V0.6H-0.6Z","M0,-0.9L0.85,0.6L-0.85,0.6Z","M0.8,0A0.8,0.8,0,1,1,-0.8,0A0.8,0.8,0,1,1,0.8,0Z","M0,-0.9L0.26,-0.45L0.779,-0.45L0.52,0L0.779,0.45L0.26,0.45L0,0.9L-0.26,0.45L-0.779,0.45L-0.52,0L-0.779,-0.45L-0.26,-0.45Z","M0,-0.85L0.7,0L0,0.85L-0.7,0Z","M-0.6,-0.6H0.6V0.6H-0.6Z"]}}
   }},
  {"transform": [{"filter": "datum.t < 0"}],
   "mark": {"type": "point", "filled": false, "size": 100, "strokeWidth": 1, "opacity": 1},
   "encoding": {
    "color": {"field": "s", "type": "nominal", "legend": {"title": null, "orient": "top-right", "labelExpr": "datum.label == 'CNN+VAS' ? 'CNN + VAS' : datum.label"}, "scale": {"domain": ["NOP","MLP","CNN","RNN","LSTM","BiLSTM"," ","MLP+VAS","CNN+VAS","RNN+VAS","LSTM+VAS","BiLSTM+VAS"], "range": ["#404040","#4472C4","#FFC000","#FF0000","#70AD47","#7030A0","transparent","#4472C4","#FFC000","#FF0000","#70AD47","#7030A0"]}},
    "fill": {"field": "s", "type": "nominal", "legend": {"title": null, "orient": "top-right", "labelExpr": "datum.label == 'CNN+VAS' ? 'CNN + VAS' : datum.label"}, "scale": {"domain": ["NOP","MLP","CNN","RNN","LSTM","BiLSTM"," ","MLP+VAS","CNN+VAS","RNN+VAS","LSTM+VAS","BiLSTM+VAS"], "range": ["transparent","transparent","transparent","transparent","transparent","transparent","transparent","#4472C4","#FFC000","#FF0000","#70AD47","#7030A0"]}},
    "shape": {"field": "s", "type": "nominal", "legend": {"title": null, "orient": "top-right", "labelExpr": "datum.label == 'CNN+VAS' ? 'CNN + VAS' : datum.label"}, "scale": {"domain": ["NOP","MLP","CNN","RNN","LSTM","BiLSTM"," ","MLP+VAS","CNN+VAS","RNN+VAS","LSTM+VAS","BiLSTM+VAS"], "range": ["M-1.3,0H1.3M0,-0.8V0.8","M-1.3,0H-0.6M0.6,0H1.3M0,-0.9L0.85,0.6L-0.85,0.6Z","M-1.3,0H-0.8M0.8,0H1.3M0.8,0A0.8,0.8,0,1,1,-0.8,0A0.8,0.8,0,1,1,0.8,0Z","M-1.3,0H-0.52M0.52,0H1.3M0,-0.9L0.26,-0.45L0.779,-0.45L0.52,0L0.779,0.45L0.26,0.45L0,0.9L-0.26,0.45L-0.779,0.45L-0.52,0L-0.779,-0.45L-0.26,-0.45Z","M-1.3,0H-0.7M0.7,0H1.3M0,-0.85L0.7,0L0,0.85L-0.7,0Z","M-1.3,0H-0.6M0.6,0H1.3M-0.6,-0.6H0.6V0.6H-0.6Z","M-1,0H1","M-1.3,0H1.3M0,-0.9L0.85,0.6L-0.85,0.6Z","M-1.3,0H1.3M0.8,0A0.8,0.8,0,1,1,-0.8,0A0.8,0.8,0,1,1,0.8,0Z","M-1.3,0H1.3M0,-0.9L0.26,-0.45L0.779,-0.45L0.52,0L0.779,0.45L0.26,0.45L0,0.9L-0.26,0.45L-0.779,0.45L-0.52,0L-0.779,-0.45L-0.26,-0.45Z","M-1.3,0H1.3M0,-0.85L0.7,0L0,0.85L-0.7,0Z","M-1.3,0H1.3M-0.6,-0.6H0.6V0.6H-0.6Z"]}}
   }}
 ],
 "resolve": {"scale": {"color": "independent", "fill": "independent", "shape": "independent", "strokeDash": "independent"}}
},
{
 "width": 359, "height": 269,
 "transform": [{"filter": "datum.p == 'f'"}],
 "title": {"text": "(f)\u00a0\u00a0 99%-ile normalized AE - Dragon riding"},
 "encoding": {
  "x": {"field": "t", "type": "quantitative", "scale": {"domain": [50, 300], "nice": false, "zero": false}, "axis": {"values": [50, 100, 150, 200, 250, 300], "title": "Anticipation time (ms)"}},
  "y": {"field": "v", "type": "quantitative", "scale": {"domain": [0.445, 2.56], "nice": false, "zero": false}, "axis": {"values": [0.5, 1, 1.5, 2, 2.5], "title": "99%-ile normalized AE"}}
 },
 "layer": [
  {"mark": {"type": "line", "strokeWidth": 1.2},
   "encoding": {
    "color": {"field": "s", "type": "nominal", "legend": null, "scale": {"domain": ["NOP","MLP","CNN","RNN","LSTM","BiLSTM"," ","MLP+VAS","CNN+VAS","RNN+VAS","LSTM+VAS","BiLSTM+VAS"], "range": ["#626262","#4472C4","#FFC000","#FF0000","#70AD47","#7030A0","transparent","#4472C4","#FFC000","#FF0000","#70AD47","#7030A0"]}},
    "strokeDash": {"field": "s", "type": "nominal", "legend": null, "scale": {"domain": ["NOP","MLP","CNN","RNN","LSTM","BiLSTM"," ","MLP+VAS","CNN+VAS","RNN+VAS","LSTM+VAS","BiLSTM+VAS"], "range": [[6,4],[7,3,2,3],[7,3,2,3],[6,4],[1.5,2],[7,3,2,3],[1,0],[1,0],[1,0],[1,0],[1,0],[1,0]]}}
   }},
  {"mark": {"type": "point", "filled": false, "size": 100, "strokeWidth": 1, "opacity": 1},
   "encoding": {
    "color": {"field": "s", "type": "nominal", "legend": null, "scale": {"domain": ["NOP","MLP","CNN","RNN","LSTM","BiLSTM"," ","MLP+VAS","CNN+VAS","RNN+VAS","LSTM+VAS","BiLSTM+VAS"], "range": ["#404040","#4472C4","#FFC000","#FF0000","#70AD47","#7030A0","transparent","#4472C4","#FFC000","#FF0000","#70AD47","#7030A0"]}},
    "fill": {"field": "s", "type": "nominal", "legend": null, "scale": {"domain": ["NOP","MLP","CNN","RNN","LSTM","BiLSTM"," ","MLP+VAS","CNN+VAS","RNN+VAS","LSTM+VAS","BiLSTM+VAS"], "range": ["transparent","transparent","transparent","transparent","transparent","transparent","transparent","#4472C4","#FFC000","#FF0000","#70AD47","#7030A0"]}},
    "shape": {"field": "s", "type": "nominal", "legend": null, "scale": {"domain": ["NOP","MLP","CNN","RNN","LSTM","BiLSTM"," ","MLP+VAS","CNN+VAS","RNN+VAS","LSTM+VAS","BiLSTM+VAS"], "range": ["M-0.8,0H0.8M0,-0.8V0.8","M0,-0.9L0.85,0.6L-0.85,0.6Z","M0.8,0A0.8,0.8,0,1,1,-0.8,0A0.8,0.8,0,1,1,0.8,0Z","M0,-0.9L0.26,-0.45L0.779,-0.45L0.52,0L0.779,0.45L0.26,0.45L0,0.9L-0.26,0.45L-0.779,0.45L-0.52,0L-0.779,-0.45L-0.26,-0.45Z","M0,-0.85L0.7,0L0,0.85L-0.7,0Z","M-0.6,-0.6H0.6V0.6H-0.6Z","M-0.6,-0.6H0.6V0.6H-0.6Z","M0,-0.9L0.85,0.6L-0.85,0.6Z","M0.8,0A0.8,0.8,0,1,1,-0.8,0A0.8,0.8,0,1,1,0.8,0Z","M0,-0.9L0.26,-0.45L0.779,-0.45L0.52,0L0.779,0.45L0.26,0.45L0,0.9L-0.26,0.45L-0.779,0.45L-0.52,0L-0.779,-0.45L-0.26,-0.45Z","M0,-0.85L0.7,0L0,0.85L-0.7,0Z","M-0.6,-0.6H0.6V0.6H-0.6Z"]}}
   }},
  {"transform": [{"filter": "datum.t < 0"}],
   "mark": {"type": "point", "filled": false, "size": 100, "strokeWidth": 1, "opacity": 1},
   "encoding": {
    "color": {"field": "s", "type": "nominal", "legend": {"title": null, "orient": "top-right", "labelExpr": "datum.label == 'CNN+VAS' ? 'CNN + VAS' : datum.label"}, "scale": {"domain": ["NOP","MLP","CNN","RNN","LSTM","BiLSTM"," ","MLP+VAS","CNN+VAS","RNN+VAS","LSTM+VAS","BiLSTM+VAS"], "range": ["#404040","#4472C4","#FFC000","#FF0000","#70AD47","#7030A0","transparent","#4472C4","#FFC000","#FF0000","#70AD47","#7030A0"]}},
    "fill": {"field": "s", "type": "nominal", "legend": {"title": null, "orient": "top-right", "labelExpr": "datum.label == 'CNN+VAS' ? 'CNN + VAS' : datum.label"}, "scale": {"domain": ["NOP","MLP","CNN","RNN","LSTM","BiLSTM"," ","MLP+VAS","CNN+VAS","RNN+VAS","LSTM+VAS","BiLSTM+VAS"], "range": ["transparent","transparent","transparent","transparent","transparent","transparent","transparent","#4472C4","#FFC000","#FF0000","#70AD47","#7030A0"]}},
    "shape": {"field": "s", "type": "nominal", "legend": {"title": null, "orient": "top-right", "labelExpr": "datum.label == 'CNN+VAS' ? 'CNN + VAS' : datum.label"}, "scale": {"domain": ["NOP","MLP","CNN","RNN","LSTM","BiLSTM"," ","MLP+VAS","CNN+VAS","RNN+VAS","LSTM+VAS","BiLSTM+VAS"], "range": ["M-1.3,0H1.3M0,-0.8V0.8","M-1.3,0H-0.6M0.6,0H1.3M0,-0.9L0.85,0.6L-0.85,0.6Z","M-1.3,0H-0.8M0.8,0H1.3M0.8,0A0.8,0.8,0,1,1,-0.8,0A0.8,0.8,0,1,1,0.8,0Z","M-1.3,0H-0.52M0.52,0H1.3M0,-0.9L0.26,-0.45L0.779,-0.45L0.52,0L0.779,0.45L0.26,0.45L0,0.9L-0.26,0.45L-0.779,0.45L-0.52,0L-0.779,-0.45L-0.26,-0.45Z","M-1.3,0H-0.7M0.7,0H1.3M0,-0.85L0.7,0L0,0.85L-0.7,0Z","M-1.3,0H-0.6M0.6,0H1.3M-0.6,-0.6H0.6V0.6H-0.6Z","M-1,0H1","M-1.3,0H1.3M0,-0.9L0.85,0.6L-0.85,0.6Z","M-1.3,0H1.3M0.8,0A0.8,0.8,0,1,1,-0.8,0A0.8,0.8,0,1,1,0.8,0Z","M-1.3,0H1.3M0,-0.9L0.26,-0.45L0.779,-0.45L0.52,0L0.779,0.45L0.26,0.45L0,0.9L-0.26,0.45L-0.779,0.45L-0.52,0L-0.779,-0.45L-0.26,-0.45Z","M-1.3,0H1.3M0,-0.85L0.7,0L0,0.85L-0.7,0Z","M-1.3,0H1.3M-0.6,-0.6H0.6V0.6H-0.6Z"]}}
   }}
 ],
 "resolve": {"scale": {"color": "independent", "fill": "independent", "shape": "independent", "strokeDash": "independent"}}
}
]
}
